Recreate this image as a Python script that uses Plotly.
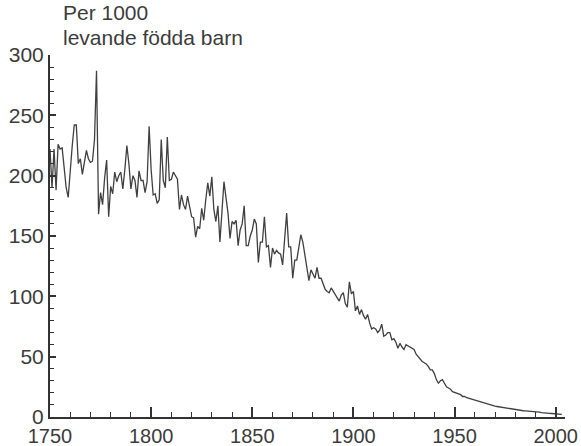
import plotly.graph_objects as go

start_year = 1750
values = [
    222, 190, 222, 188, 226, 222, 223, 205, 190, 182,   # 1750-1759
    205, 225, 242, 242, 210, 214, 201, 210, 221, 214,   # 1760-1769
    211, 212, 230, 287, 168, 186, 176, 198, 213, 166,   # 1770-1779
    191, 185, 203, 195, 200, 203, 189, 205, 225, 210,   # 1780-1789
    189, 200, 196, 182, 204, 196, 196, 186, 195, 241,   # 1790-1799
    205, 184, 185, 177, 180, 230, 196, 190, 232, 196,   # 1800-1809
    197, 203, 200, 197, 172, 184, 176, 172, 183, 175,   # 1810-1819
    166, 165, 149, 158, 156, 173, 163, 180, 194, 183,   # 1820-1829
    199, 172, 162, 175, 145, 170, 195, 182, 169, 148,   # 1830-1839
    162, 160, 163, 142, 155, 160, 175, 142, 142, 150,   # 1840-1849
    155, 164, 160, 128, 145, 145, 166, 141, 142, 124,   # 1850-1859
    140, 135, 138, 136, 135, 126, 145, 169, 141, 141,   # 1860-1869
    115, 130, 130, 140, 151, 145, 134, 127, 113, 122,   # 1870-1879
    118, 115, 124, 115, 115, 110, 106, 104, 103, 107,   # 1880-1889
    104, 102, 98, 96, 101, 103, 94, 91, 112, 102,       # 1890-1899
    104, 88, 92, 85, 89, 84, 81, 85, 78, 73,            # 1900-1909
    74, 73, 70, 72, 77, 67, 68, 70, 70, 64,             # 1910-1919
    65, 62, 57, 61, 58, 56, 60, 59, 58, 57,             # 1920-1929
    56, 52, 50, 48, 46, 45, 44, 42, 39, 39,             # 1930-1939
    36, 31, 28, 30, 31, 28, 25, 24, 23, 21,             # 1940-1949
    20.5, 20, 19, 18.5, 17, 17, 16, 15.5, 15, 14,       # 1950-1959
    14, 13.5, 13, 12.5, 12, 11.5, 11, 10.5, 10, 9.5,    # 1960-1969
    9, 8.7, 8.4, 8, 7.7, 7.4, 7.2, 7, 6.6, 6.3,         # 1970-1979
    6, 5.8, 5.6, 5.4, 5.2, 5.1, 5, 4.9, 4.8, 4.8,       # 1980-1989
    4.7, 4.4, 4, 3.7, 3.4, 3.3, 3.1, 3, 2.9, 2.8,       # 1990-1999
    2.6, 2.4, 2.3, 2.1,                                 # 2000-2003
]
years = [start_year + i for i in range(len(values))]

x_ticks = [1750, 1800, 1850, 1900, 1950, 2000]
y_ticks = [0, 50, 100, 150, 200, 250, 300]
title_lines = ["Per 1000", "levande födda barn"]

FONT = "Liberation Sans, Arial, sans-serif"
TXT = "#3c3c3c"

ML, MR, MT, MB = 50, 16, 55, 29
PW, PH = 581 - ML - MR, 446 - MT - MB

fig = go.Figure()
fig.add_trace(go.Scatter(
    x=years, y=values, mode="lines",
    line=dict(color="#404040", width=1.3),
    hoverinfo="skip", showlegend=False,
))

fig.update_layout(
    template="none",
    width=581, height=446,
    margin=dict(l=ML, r=MR, t=MT, b=MB, autoexpand=False),
    paper_bgcolor="white", plot_bgcolor="white",
    font=dict(family=FONT, color=TXT, size=20),
    xaxis=dict(
        automargin=False,
        range=[1750, 2004.6], tickvals=x_ticks, ticktext=[str(v) for v in x_ticks],
        ticks="inside", ticklen=10, tickwidth=1.5, tickcolor="#333",
        showline=True, linecolor="#333", linewidth=2,
        showgrid=False, zeroline=False, ticklabelstandoff=0,
        minor=dict(dtick=10, tick0=1750, ticks="inside", ticklen=5, tickwidth=1.2, tickcolor="#333", showgrid=False),
        tickfont=dict(size=20, color=TXT, family=FONT),
    ),
    yaxis=dict(
        automargin=False,
        range=[0, 300], tickvals=y_ticks, ticktext=[str(v) for v in y_ticks],
        ticks="inside", ticklen=6, tickwidth=1.5, tickcolor="#333",
        showline=True, linecolor="#333", linewidth=2,
        showgrid=False, zeroline=False,
        minor=dict(dtick=10, tick0=0, ticks="inside", ticklen=4, tickwidth=1.2, tickcolor="#333", showgrid=False),
        tickfont=dict(size=21, color=TXT, family=FONT),
    ),
)

for line, ypx in zip(title_lines, [13, 38]):
    fig.add_annotation(
        text=line, xref="paper", yref="paper",
        x=12 / PW, y=1 + (MT - ypx) / PH,
        xanchor="left", yanchor="middle", showarrow=False, borderpad=0,
        font=dict(size=21, color=TXT, family=FONT),
    )

fig.write_html(
    "out.html",
    config={"displayModeBar": False},
    post_script="document.body.style.margin='0';document.body.style.padding='0';",
)
